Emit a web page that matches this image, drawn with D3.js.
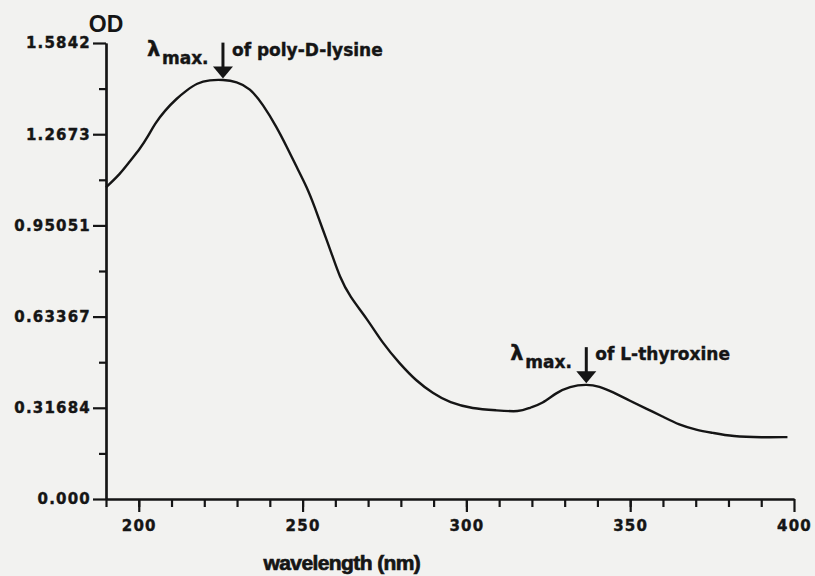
<!DOCTYPE html>
<html>
<head>
<meta charset="utf-8">
<script src="https://cdn.jsdelivr.net/npm/d3@7"></script>
<style>
  body { margin: 0; background: #f2f2f0; }
  svg { display: block; }
  .tick text { font-family: "DejaVu Sans", sans-serif; font-weight: bold; font-size: 15px; letter-spacing: 1.2px; fill: #151515; stroke: #151515; stroke-width: 0.4px; }
  .ann { font-family: "DejaVu Sans", sans-serif; font-weight: bold; fill: #151515; stroke: #151515; stroke-width: 0.4px; }
</style>
</head>
<body>
<svg></svg>
<script>
// spectrum
var wavelength = [190, 194.3, 197.3, 200.4, 202.8, 204.9, 208, 211.6, 214.7, 217.7, 221.7, 225.7, 229.9, 233.9,
    237.9, 242.1, 245.2, 248.2, 251.3, 253.7, 256.2, 258.9, 261.3, 264.4, 269.6, 274.5, 279.6, 284.8, 289.7,
    294.9, 301.9, 309.2, 316.2, 319.3, 323.2, 327.5, 331.5, 336.6, 340.6, 344.6, 349.8, 354.9, 359.8, 365,
    370.2, 375.1, 381.2, 390.3, 398];
var od = [1.083, 1.129, 1.174, 1.217, 1.259, 1.304, 1.350, 1.392, 1.420, 1.445, 1.456, 1.457, 1.450, 1.428,
    1.371, 1.292, 1.223, 1.153, 1.084, 1.015, 0.935, 0.852, 0.772, 0.703, 0.628, 0.540, 0.471, 0.409, 0.368,
    0.334, 0.314, 0.308, 0.302, 0.317, 0.331, 0.370, 0.391, 0.399, 0.392, 0.372, 0.342, 0.314, 0.287, 0.257,
    0.240, 0.230, 0.217, 0.214, 0.215];

var yTicks = [0, 0.31684, 0.63367, 0.95051, 1.2673, 1.5842];
var yTickLabels = ["0.000", "0.31684", "0.63367", "0.95051", "1.2673", "1.5842"];
var xTicks = [200, 250, 300, 350, 400];

// peaks that get an arrow
var peakNames = ["poly-D-lysine", "L-thyroxine"];
var peakNm = [225.7, 336.6];
var peakOd = [1.457, 0.399];

var margin = {top: 43, right: 21, bottom: 77, left: 106};
var width = 815 - margin.left - margin.right;
var height = 576 - margin.top - margin.bottom;

var svg = d3.select("svg")
    .attr("width", 815)
    .attr("height", 576);

var g = svg.append("g")
    .attr("transform", "translate(" + margin.left + "," + margin.top + ")");

var x = d3.scaleLinear().domain([190, 400]).range([0, width]);
var y = d3.scaleLinear().domain([0, 1.5842]).range([height, 0]);

// minor ticks
var yMinor = d3.range(0, 5).map(function(i) { return (yTicks[i] + yTicks[i + 1]) / 2; });
g.append("g")
    .attr("class", "axis")
    .call(d3.axisLeft(y).tickValues(yMinor).tickSize(7).tickSizeOuter(0).tickFormat(""));
g.append("g")
    .attr("class", "axis")
    .attr("transform", "translate(0," + height + ")")
    .call(d3.axisBottom(x).tickValues(d3.range(190, 400, 10)).tickSize(8).tickSizeOuter(0).tickFormat(""));

// major ticks
g.append("g")
    .attr("class", "axis")
    .call(d3.axisLeft(y).tickValues(yTicks).tickSize(13).tickSizeOuter(0).tickPadding(2)
        .tickFormat(function(d, i) { return yTickLabels[i]; }));
g.append("g")
    .attr("class", "axis")
    .attr("transform", "translate(0," + height + ")")
    .call(d3.axisBottom(x).tickValues(xTicks).tickSize(13).tickSizeOuter(0).tickPadding(8));

g.selectAll(".axis path, .axis line")
    .attr("stroke", "#151515")
    .attr("stroke-width", 2.2);

g.append("text")
    .attr("x", 0)
    .attr("y", -11)
    .attr("text-anchor", "middle")
    .style("font-family", "Liberation Sans, sans-serif")
    .style("font-weight", "bold")
    .style("font-size", "23px")
    .attr("fill", "#151515")
    .text("OD");

g.append("text")
    .attr("x", x(262))
    .attr("y", height + 71)
    .attr("text-anchor", "middle")
    .style("font-family", "Liberation Sans, sans-serif")
    .style("font-weight", "bold")
    .style("font-size", "21px")
    .style("letter-spacing", "-0.6px")
    .attr("fill", "#151515")
    .attr("stroke", "#151515")
    .attr("stroke-width", 0.7)
    .text("wavelength (nm)");

var line = d3.line()
    .x(function(d, i) { return x(wavelength[i]); })
    .y(function(d) { return y(d); })
    .curve(d3.curveBasis);

g.append("path")
    .datum(od)
    .attr("fill", "none")
    .attr("stroke", "#151515")
    .attr("stroke-width", 2.4)
    .attr("d", line);

// annotations
peakNm.forEach(function(nm, i) {
    var ax = x(nm);
    var tip = y(peakOd[i]) - 1;
    var top = tip - 36;
    var a = g.append("g");
    a.append("line")
        .attr("x1", ax).attr("x2", ax)
        .attr("y1", top).attr("y2", tip - 8)
        .attr("stroke", "#151515").attr("stroke-width", 3);
    a.append("path")
        .attr("d", "M" + (ax - 10) + "," + (tip - 12) + "L" + (ax + 10) + "," + (tip - 12) + "L" + ax + "," + tip + "Z")
        .attr("fill", "#151515");
    a.append("text")
        .attr("class", "ann")
        .attr("x", ax - 76)
        .attr("y", tip - 23)
        .style("font-size", "21px")
        .text("λ");
    a.append("text")
        .attr("class", "ann")
        .attr("x", ax - 61)
        .attr("y", tip - 15)
        .style("font-size", "17px")
        .text("max.");
    a.append("text")
        .attr("class", "ann")
        .attr("x", ax + 9)
        .attr("y", tip - 23)
        .style("font-size", "17px")
        .text("of " + peakNames[i]);
});
</script>
</body>
</html>
